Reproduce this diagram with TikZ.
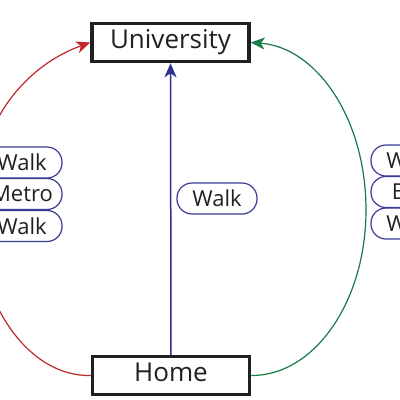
\documentclass[tikz,border=0pt]{standalone}
\usepackage{fontspec}
\setmainfont{Open Sans}
\usetikzlibrary{arrows.meta}
\definecolor{txt}{HTML}{231F20}
\definecolor{pillc}{HTML}{3A3B94}
\definecolor{redc}{HTML}{C1272D}
\definecolor{greenc}{HTML}{1A7A48}
\definecolor{bluec}{HTML}{2E3192}
\tikzset{
  place/.style={draw=txt, line width=3.5pt, minimum width=157pt, minimum height=38pt, inner sep=0pt, text=txt, font=\fontsize{26}{30}\selectfont, fill=white},
  pill/.style={draw=pillc, line width=1.2pt, rounded corners=15pt, minimum width=80pt, minimum height=31pt, inner sep=0pt, text=txt, font=\fontsize{22}{26}\selectfont},
  tip/.style={-{Stealth[length=14pt, width=12pt, inset=4pt]}},
}
\begin{document}
\begin{tikzpicture}[x=1pt, y=-1pt]
\path[use as bounding box] (0,0) rectangle (400,400);
\clip (0,0) rectangle (400,400);
\fill[white] (0,0) rectangle (400,400);
\node[place] (univ) at (170.5,42.5) {\raisebox{4pt}{University}};
\node[place] (home) at (171,375.5) {\raisebox{6pt}{Home}};
\coordinate (rmid) at (-24,210);
\coordinate (gmid) at (366,210);
\draw[redc, line width=1.2pt, tip] (home.west) .. controls (28,377) and (-24,302) .. (rmid) .. controls (-24,118) and (30,64) .. (univ.west);
\draw[greenc, line width=1.2pt, tip] (home.east) .. controls (314,376) and (366,302) .. (gmid) .. controls (366,118) and (316,47) .. (univ.east);
\draw[bluec, line width=1.5pt, tip] (home.north) -- (univ.south);
\node[pill] (cw) at (217,198.5) {Walk};
\node[pill] (l1) at (22,162.5) {Walk};
\node[pill] (l2) at (22,194) {Metro};
\node[pill] (l3) at (22,226) {Walk};
\node[pill] (r1) at (411,160.5) {Walk};
\node[pill] (r2) at (411,192) {Bus};
\node[pill] (r3) at (411,223.5) {Walk};
\end{tikzpicture}
\end{document}
